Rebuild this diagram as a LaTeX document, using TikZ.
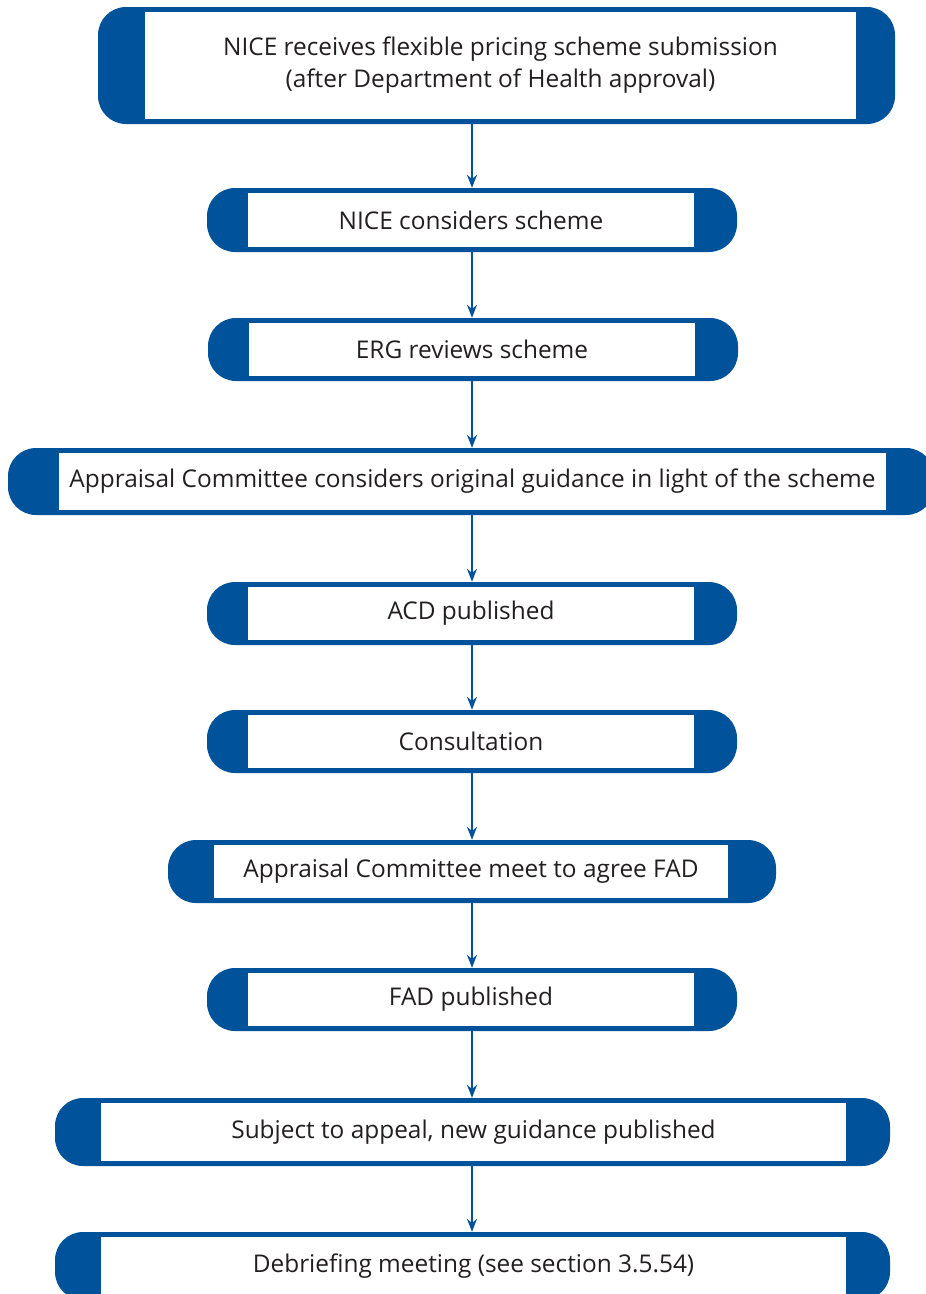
\documentclass[tikz,border=0pt]{standalone}
\usepackage{fontspec}
\setmainfont{Open Sans}
\usetikzlibrary{arrows.meta}

\definecolor{niceblue}{RGB}{0,82,155}
\definecolor{nicetext}{RGB}{35,31,32}

\tikzset{
	outerbox/.style={rectangle, fill=niceblue, rounded corners=28pt, inner sep=0pt},
	innerbox/.style={rectangle, fill=white, inner sep=0pt, align=center, text=nicetext, font=\fontsize{24.4}{32}\selectfont},
	flowarrow/.style={draw=niceblue, line width=1.6pt, -{Stealth[length=13pt,width=10pt]}}
}

\begin{document}
\begin{tikzpicture}[x=1pt, y=-1pt]
					\useasboundingbox (0,0) rectangle (926,1294);
					\coordinate (ax) at (472,0);

					% steps: name / outer left / outer right / top / bottom / inner left / inner right / text
					\foreach \n/\xa/\xb/\ya/\yb/\ia/\ib/\t in {
						s1/98/895/7/124/145/856/{NICE receives flexible pricing scheme submission\\(after Department of Health approval)},
						s2/207/737/188/252/248/694/{NICE considers scheme},
						s3/208/738/318/381/249/695/{ERG reviews scheme},
						s4/8/934/448/515/59/886/{Appraisal Committee considers original guidance in light of the scheme},
						s5/207/737/582/645/248/694/{ACD published},
						s6/207/737/710/773/248/694/{Consultation},
						s7/168/776/840/903/214/728/{Appraisal Committee meet to agree FAD},
						s8/207/737/968/1031/248/694/{FAD published},
						s9/55/890/1098/1166/101/846/{Subject to appeal, new guidance published},
						s10/55/890/1232/1300/101/846/{Debriefing meeting (see section 3.5.54)}}
					{
						\node [outerbox, minimum width=\xb-\xa, minimum height=\yb-\ya] (\n) at ({(\xa+\xb)/2},{(\ya+\yb)/2}) {};
						\node [innerbox, minimum width=\ib-\ia, minimum height=\yb-\ya-10] (\n-t) at ({(\ia+\ib)/2},{(\ya+\yb)/2}) {\t};
					}

					\begin{scope}[flowarrow]
						\foreach \a/\b in {s1/s2, s2/s3, s3/s4, s4/s5, s5/s6, s6/s7, s7/s8, s8/s9, s9/s10}
						{
							\draw (\a.south -| ax) -- (\b.north -| ax);
						}
					\end{scope}
				\end{tikzpicture}
\end{document}
